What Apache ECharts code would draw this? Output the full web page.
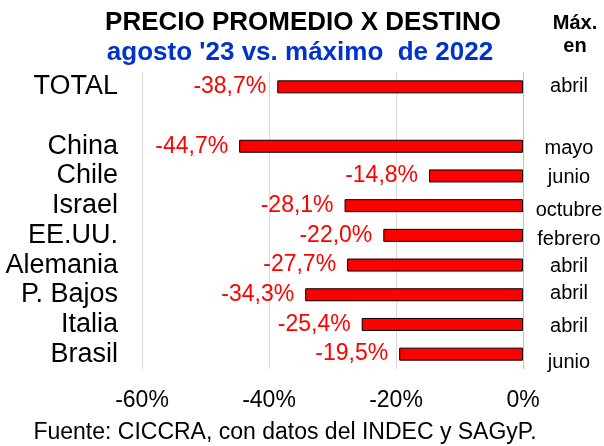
<!DOCTYPE html>
<html>
<head>
<meta charset="utf-8">
<script src="https://cdn.jsdelivr.net/npm/echarts@6/dist/echarts.min.js"></script>
<style>
  html, body { margin: 0; padding: 0; background: #fff; }
  #chart { width: 604px; height: 446px; }
</style>
</head>
<body>
<div id="chart"></div>
<script>
// categories (blank row between TOTAL and the countries)
var categories = ['TOTAL', '', 'China', 'Chile', 'Israel', 'EE.UU.', 'Alemania', 'P. Bajos', 'Italia', 'Brasil'];
var values = [-38.7, null, -44.7, -14.8, -28.1, -22.0, -27.7, -34.3, -25.4, -19.5];
var maxMonth = ['abril', '', 'mayo', 'junio', 'octubre', 'febrero', 'abril', 'abril', 'abril', 'junio'];
var xTicks = [-60, -40, -20, 0];

// small vertical nudge of the month labels, as in the original
var monthNudge = [0, 0, 2, 2, 5, 4, 1, -1, 2, 8];

var font = '"Liberation Sans", Arial, sans-serif';

function pct(v) {
    return v.toFixed(1).replace('.', ',') + '%';
}

// one rich style per month label: centred in a fixed box, shifted a bit down/up
var monthRich = {};
monthNudge.forEach(function (d, i) {
    monthRich['m' + i] = {
        width: 72, align: 'center',
        fontFamily: font, fontSize: 20, color: '#000',
        padding: d >= 0 ? [d * 2, 0, 0, 0] : [0, 0, -d * 2, 0]
    };
});

var chart = echarts.init(document.getElementById('chart'));

var option = {
    animation: false,
    backgroundColor: '#fff',
    textStyle: { fontFamily: font },
    title: [
        {
            text: 'PRECIO PROMEDIO X DESTINO',
            left: 298, top: 5, textAlign: 'center',
            textStyle: { fontFamily: font, fontSize: 26, fontWeight: 'bold', color: '#000' }
        },
        {
            text: "agosto '23 vs. máximo  de 2022",
            left: 295, top: 35, textAlign: 'center',
            textStyle: { fontFamily: font, fontSize: 26, fontWeight: 'bold', color: '#0033cc' }
        },
        {
            text: 'Máx.',
            left: 570, top: 8, textAlign: 'center',
            textStyle: { fontFamily: font, fontSize: 20, fontWeight: 'bold', color: '#000' }
        },
        {
            text: 'en',
            left: 570, top: 31, textAlign: 'center',
            textStyle: { fontFamily: font, fontSize: 20, fontWeight: 'bold', color: '#000' }
        },
        {
            text: 'Fuente: CICCRA, con datos del INDEC y SAGyP.',
            left: 280, top: 416, textAlign: 'center',
            textStyle: { fontFamily: font, fontSize: 23, fontWeight: 'normal', color: '#000' }
        }
    ],
    grid: { left: 142, right: 81, top: 72, bottom: 77, outerBoundsMode: 'none', containLabel: false },
    xAxis: {
        type: 'value',
        min: -60, max: 0, interval: 20,
        axisLine: { show: false },
        axisTick: { show: false },
        axisLabel: {
            margin: 20,
            fontFamily: font, fontSize: 23, color: '#000',
            formatter: function (v) { return xTicks.indexOf(v) >= 0 ? v + '%' : ''; }
        },
        splitLine: {
            show: true,
            lineStyle: { color: ['#d9d9d9', '#d9d9d9', '#d9d9d9', '#c0c0c0'], width: 1 }
        }
    },
    yAxis: [
        {
            type: 'category',
            inverse: true,
            data: categories,
            axisLine: { show: false },
            axisTick: { show: false },
            axisLabel: { interval: 0, margin: 24, fontFamily: font, fontSize: 27, color: '#000' }
        },
        {
            type: 'category',
            inverse: true,
            position: 'right',
            data: maxMonth,
            axisLine: { show: false },
            axisTick: { show: false },
            axisLabel: {
                interval: 0, margin: 10, align: 'left',
                fontFamily: font, fontSize: 20, color: '#000',
                formatter: function (v, i) { return v ? '{m' + i + '|' + v + '}' : ''; },
                rich: monthRich
            }
        }
    ],
    series: [
        {
            type: 'bar',
            data: values,
            barWidth: 13,
            itemStyle: { color: '#ff0000', borderColor: '#000', borderWidth: 1 },
            label: {
                show: true,
                position: 'left',
                distance: 11,
                fontFamily: font, fontSize: 23, color: '#ff0000',
                formatter: function (p) { return p.value == null ? '' : pct(p.value); }
            }
        }
    ]
};

chart.setOption(option);
</script>
</body>
</html>
